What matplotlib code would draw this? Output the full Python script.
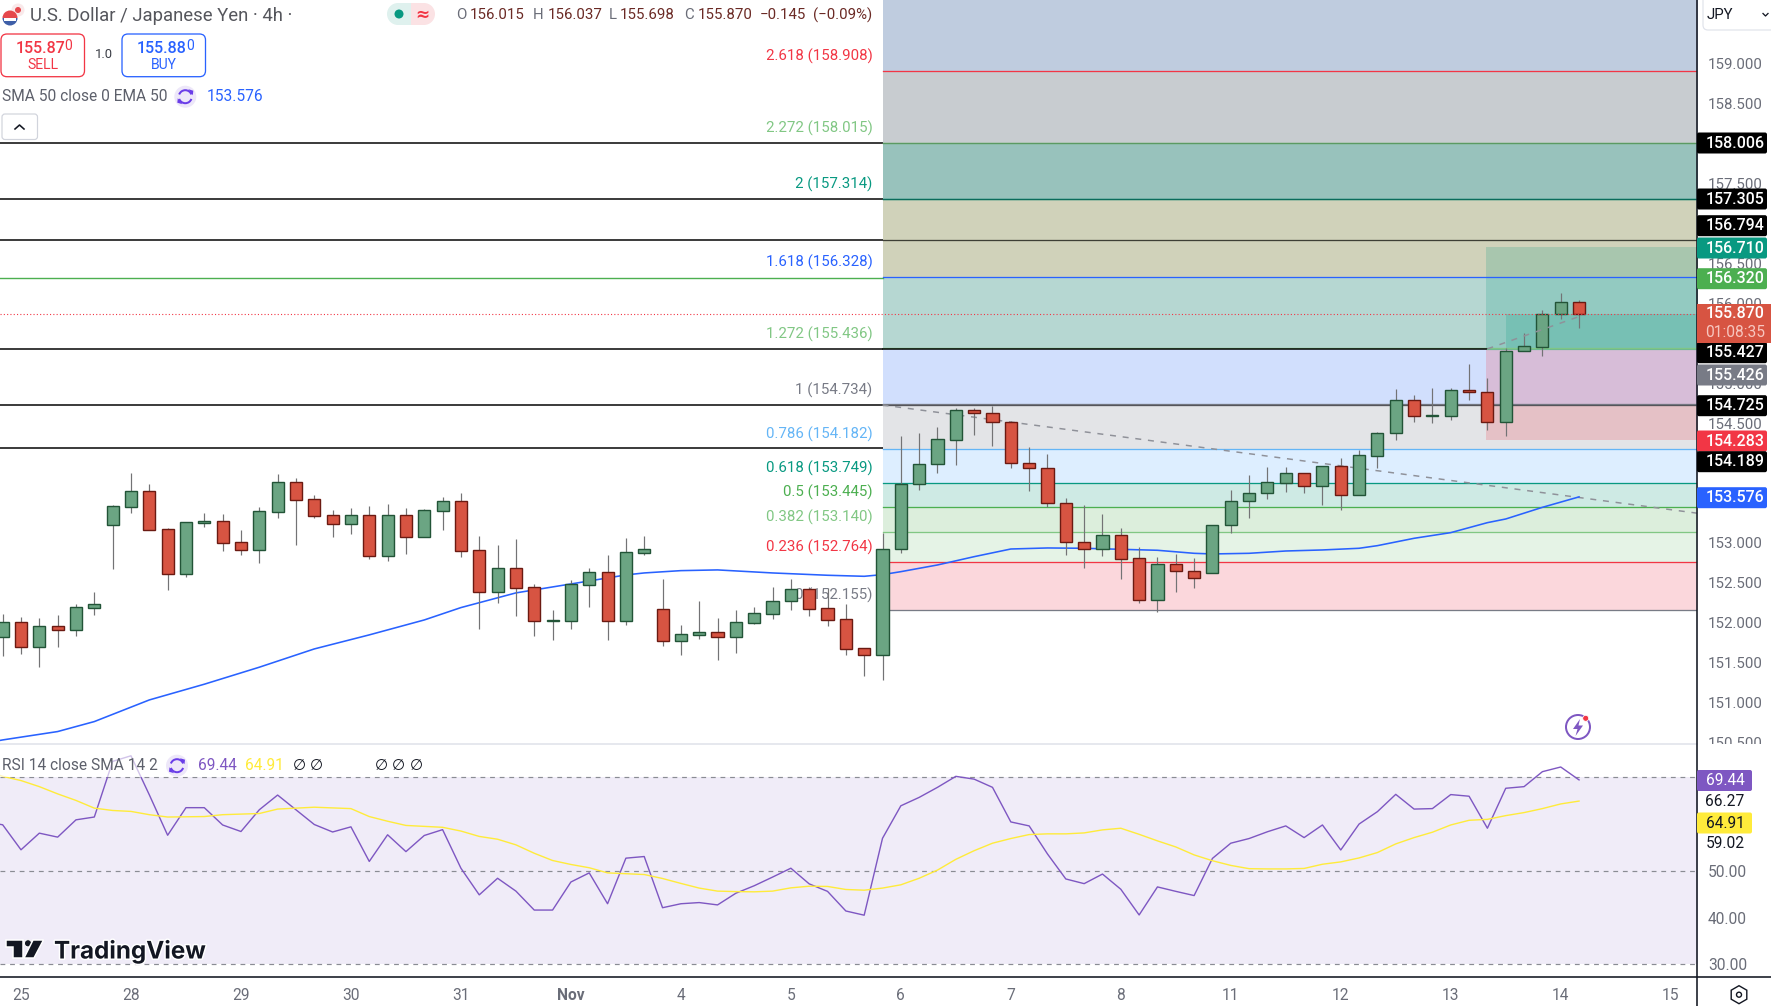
import matplotlib
matplotlib.use("Agg")
import matplotlib.pyplot as plt
import numpy as np
from matplotlib.patches import Rectangle, FancyBboxPatch, Circle, Arc, Polygon, RegularPolygon, Wedge
from matplotlib.transforms import Bbox
import matplotlib.patheffects as pe

plt.rcParams['font.family'] = ['Roboto', 'DejaVu Sans']

W, H = 1771, 1006
PANE_R, MAIN_B, RSI_B = 1697, 744, 977

first_bar = -1
opens = [151.817,152.005,151.700,151.955,151.913,152.189,153.229,153.454,153.646,153.170,152.615,153.254,153.270,153.007,
 152.915,153.391,153.759,153.546,153.345,153.241,153.345,152.840,153.345,153.078,153.404,153.521,152.907,152.389,152.682,
 152.444,152.026,152.026,152.477,152.632,152.026,152.878,152.168,151.776,151.851,151.880,151.826,152.001,152.114,152.268,
 152.419,152.181,152.043,151.680,151.600,152.919,153.733,153.984,154.293,154.660,154.623,154.510,153.996,153.934,153.495,
 153.007,152.927,153.094,152.806,152.280,152.731,152.644,152.618,153.220,153.520,153.621,153.754,153.871,153.708,153.959,
 153.604,154.092,154.372,154.787,154.595,154.595,154.912,154.887,154.511,155.401,155.459,155.864,156.015]
closes = [152.005,151.700,151.955,151.913,152.193,152.231,153.458,153.646,153.166,152.615,153.258,153.270,153.003,152.915,
 153.396,153.759,153.542,153.337,153.241,153.345,152.840,153.345,153.078,153.408,153.521,152.903,152.389,152.682,152.439,
 152.026,152.030,152.481,152.632,152.026,152.882,152.920,151.776,151.855,151.880,151.826,152.005,152.118,152.268,152.419,
 152.176,152.039,151.676,151.600,152.920,153.733,153.984,154.297,154.660,154.623,154.510,153.996,153.934,153.495,153.007,
 152.927,153.094,152.802,152.280,152.731,152.644,152.564,153.220,153.520,153.621,153.758,153.871,153.708,153.959,153.604,
 154.096,154.372,154.785,154.586,154.599,154.912,154.887,154.511,155.401,155.463,155.864,156.014,155.870]
highs = [152.110,152.072,152.060,152.097,152.235,152.385,153.471,153.876,153.738,153.183,153.266,153.370,153.362,153.162,
 153.454,153.863,153.813,153.596,153.412,153.433,153.462,153.487,153.433,153.429,153.579,153.621,153.087,152.974,153.049,
 152.481,152.160,152.535,152.686,152.844,153.062,153.087,152.544,151.968,152.268,152.060,152.160,152.193,152.444,152.544,
 152.444,152.439,152.235,151.680,153.120,154.339,154.372,154.451,154.685,154.685,154.719,154.531,154.201,154.113,153.562,
 153.474,153.362,153.182,152.944,152.819,152.861,152.811,153.220,153.662,153.850,153.946,153.946,153.871,153.959,154.059,
 154.163,154.385,154.927,154.849,154.941,154.941,155.242,155.067,155.438,155.630,155.914,156.127,156.037]
lows = [151.584,151.613,151.446,151.696,151.838,152.097,152.673,153.375,153.166,152.414,152.573,153.199,152.903,152.849,
 152.748,153.312,152.974,153.316,153.074,153.116,152.799,152.773,152.861,153.078,153.162,152.828,151.922,152.252,152.089,
 151.838,151.784,151.922,152.197,151.784,151.972,152.853,151.713,151.600,151.797,151.533,151.621,151.984,152.047,152.160,
 152.085,151.959,151.600,151.333,151.283,152.877,153.662,153.879,153.975,154.351,154.213,153.938,153.650,153.453,152.848,
 152.685,152.836,152.548,152.247,152.138,152.385,152.435,152.618,153.124,153.312,153.550,153.637,153.625,153.474,153.412,
 153.604,153.934,154.289,154.515,154.507,154.541,154.791,154.415,154.344,155.401,155.346,155.805,155.698]

sma_idx = [-2,-1,2,4,7,10,13,16,19,22,24,27,30,33,34,36,38,41,44,46,47,48,50,52,54,56,58,60,62,64,65,67,69,71,73,74,76,78,80,81,83,85]
sma_val = [150.49,150.531,150.636,150.761,151.032,151.229,151.442,151.671,151.847,152.034,152.189,152.373,152.485,152.598,152.623,
 152.652,152.661,152.623,152.594,152.581,152.602,152.639,152.723,152.827,152.923,152.936,152.932,152.919,152.907,152.869,
 152.861,152.869,152.898,152.911,152.932,152.965,153.057,153.128,153.253,153.299,153.445,153.576]

rsi_first = -2
rsi_val = [60.5,59.84,54.49,58.05,57.2,60.9,61.5,73.4,74.6,66.25,57.6,63.5,63.5,59.8,58.4,63.05,66.2,63.05,59.9,58.3,59.4,52.0,57.7,
 54.1,57.55,58.8,50.55,44.85,48.4,45.65,41.6,41.6,47.6,49.55,42.95,52.7,53.05,42.1,42.95,43.2,42.7,45.2,46.8,48.65,50.55,47.2,45.6,
 41.4,40.5,56.95,63.9,65.7,67.85,70.2,69.6,67.85,60.45,59.6,53.6,48.25,47.25,49.3,46.05,40.55,46.55,45.6,44.7,52.65,55.9,56.9,58.35,
 59.6,57.1,59.8,54.45,60.0,62.65,66.35,63.2,63.3,66.3,65.95,59.1,67.65,68.0,71.2,72.2,69.44]
rsi_ma_idx = [-2,-1,0,1,2,3,4,5,6,7,8,10,11,13,14,16,18,19,20,21,23,24,25,26,27,28,29,30,31,32,34,35,36,37,38,39,40,41,42,43,44,45,46,47,
 48,49,50,51,52,53,54,55,56,57,58,59,60,61,62,63,64,65,66,67,68,69,70,71,72,73,74,75,76,77,78,79,80,81,82,83,84,85]
rsi_ma_val = [71.5,70.2,69.3,68.0,66.45,65.05,63.4,62.9,62.7,62.0,61.5,61.6,62.0,62.25,63.2,63.6,63.3,61.6,60.6,59.7,59.3,58.5,57.35,56.75,
 55.55,53.75,52.2,51.35,50.65,49.55,49.2,48.35,47.3,46.3,45.65,45.55,45.5,45.65,46.35,46.7,46.65,46.0,45.85,46.3,
 47.0,48.4,50.15,52.45,54.3,55.9,56.9,57.75,57.9,57.9,58.1,58.75,59.1,57.8,56.4,55.1,53.4,52.15,51.15,50.45,50.4,50.4,50.5,51.4,51.9,52.75,
 53.9,55.75,57.1,58.25,59.8,60.8,61.0,61.8,62.45,63.3,64.3,64.91]

fib_ratio = ['2.618','2.272','2','1.618','1.272','1','0.786','0.618','0.5','0.382','0.236','0']
fib_price = [158.908,158.015,157.314,156.328,155.436,154.734,154.182,153.749,153.445,153.140,152.764,152.155]
fib_color = ['#F23645','#81C784','#089981','#2962FF','#81C784','#787B86','#64B5F6','#089981','#4CAF50','#81C784','#F23645','#787B86']
fib_fill  = ['#BFCCDF','#C8CCD0','#98C2BC','#D0D2BA','#B6D7D2','#D1DFFD','#E3E4E7','#DDEEFF','#CEEAE4','#DCEEDC','#E5F3E6','#FBD7DC']
black_levels = [158.006,157.305,156.794,155.427,154.725,154.189]
black_right = {158.006:'#5B9A63',157.305:'#0B6B5B',156.794:'#3D3F35',154.725:'#55555A'}
green_level = 156.320
last_price = 155.870
fib_start = 47
tool_start, pl_start = 80, 81
tool_top, tool_entry, tool_stop = 156.710, 155.426, 154.283
trend_x, trend_y = [47,91.5], [154.727,153.37]
trend2_x, trend2_y = [80,85], [155.43,155.835]

day_idx = [0,6,12,18,24,30,36,42,48,54,60,66,72,78,84,90]
day_lbl = ['25','28','29','30','31','Nov','4','5','6','7','8','11','12','13','14','15']

px = lambda v: v*0.72
fig = plt.figure(figsize=(W/100,H/100), dpi=100, facecolor='white')
ax = fig.add_axes([0,(H-MAIN_B)/H,PANE_R/W,MAIN_B/H])
rx = fig.add_axes([0,(H-RSI_B)/H,PANE_R/W,(RSI_B-MAIN_B)/H], sharex=ax)
xmin, xmax = -21/18.33, (PANE_R-21)/18.33
ylo, yhi = 150.48, 159.801
ax.set_xlim(xmin,xmax); ax.set_ylim(ylo,yhi)
for a in (ax,rx):
    for s in a.spines.values(): s.set_visible(False)
ax.tick_params(axis='x',length=0,labelbottom=False)

edges = [yhi+1]+fib_price
for i,c in enumerate(fib_fill):
    ax.fill_between([fib_start,xmax+1],edges[i+1],edges[i],color=c,lw=0,zorder=1)
ax.fill_between([tool_start-.1,xmax+1],tool_entry,tool_top,color='#089981',alpha=.2,lw=0,zorder=1.2)
ax.fill_between([tool_start-.1,xmax+1],tool_stop,tool_entry,color='#F23645',alpha=.2,lw=0,zorder=1.2)
ax.fill_between([pl_start,xmax+1],tool_entry,last_price,color='#089981',alpha=.2,lw=0,zorder=1.2)
for p in black_levels:
    ax.plot([xmin,fib_start],[p,p],color='#000000',lw=px(1.5),zorder=1.5,solid_capstyle='butt')
ax.plot([xmin,fib_start],[green_level]*2,color='#4CAF50',lw=px(1.4),zorder=1.5)
for p,c in zip(fib_price,fib_color):
    ax.plot([fib_start,xmax],[p,p],color=c,lw=px(1.3),zorder=1.7)
for p,c in black_right.items():
    ax.plot([fib_start,xmax],[p,p],color=c,lw=px(1.3),zorder=1.75)
ax.plot([fib_start,tool_start],[155.427]*2,color='#000000',lw=px(1.5),zorder=1.8)
ax.plot([tool_start,xmax],[tool_entry]*2,color='#6FB98F',lw=px(1.2),zorder=1.8)
for r,p,c in zip(fib_ratio,fib_price,fib_color):
    ax.annotate(f'{r} ({p:.3f})',(fib_start,p),xytext=(px(-10),px(14.5)),textcoords='offset points',
                ha='right',va='center',color=c,fontsize=px(15),zorder=2.5)
ax.plot(trend_x,trend_y,color='#8F9199',lw=px(1.5),ls=(0,(4,4.5)),zorder=2.2)
ax.plot(trend2_x,trend2_y,color='#8F9199',lw=px(1.5),ls=(0,(4,4.5)),zorder=3.5)
ax.plot(sma_idx,sma_val,color='#2962FF',lw=px(1.6),zorder=2.6)
idx = np.arange(first_bar,first_bar+len(opens))
O,C,Hi,Lo = map(np.array,(opens,closes,highs,lows))
up = C>=O
ax.vlines(idx,Lo,Hi,color='#737375',lw=px(1.2),zorder=2.9)
ax.bar(idx[up],(C-O)[up],bottom=O[up],width=.66,color='#6BA583',edgecolor='#225437',linewidth=px(1.4),zorder=3)
ax.bar(idx[~up],(C-O)[~up],bottom=O[~up],width=.66,color='#D75442',edgecolor='#6B1A12',linewidth=px(1.4),zorder=3)
ax.plot([xmin,xmax],[last_price]*2,color='#F23645',lw=px(1.1),ls=(0,(1,2)),zorder=3.2)
ticks = np.arange(150.5,159.5,.5)
ax.yaxis.tick_right()
ax.set_yticks(ticks)
ax.set_yticklabels([f'{t:.3f}' for t in ticks],fontsize=px(15),color='#6A6D78')
ax.tick_params(axis='y',length=0,pad=px(11))
for lab in ax.get_yticklabels():
    lab.set_clip_box(Bbox([[PANE_R,H-MAIN_B],[W,H]]))
    lab.set_clip_on(True)

rx.set_ylim(27.28,77.12)
rx.fill_between([xmin,xmax+1],30,70,color='#F0ECF8',lw=0,zorder=1)
for lv in (70,50,30):
    rx.plot([xmin,xmax],[lv,lv],color='#8A8C94',lw=px(1.2),ls=(0,(4,4)),zorder=1.5)
rx.plot(np.arange(rsi_first,rsi_first+len(rsi_val)),rsi_val,color='#7E57C2',lw=px(1.4),zorder=2)
rx.plot(rsi_ma_idx,rsi_ma_val,color='#FFEB3B',lw=px(1.4),zorder=2)
rx.yaxis.tick_right()
rx.set_yticks([30,40,50])
rx.set_yticklabels(['30.00','40.00','50.00'],fontsize=px(15.5),color='#6A6D78')
rx.tick_params(axis='y',length=0,pad=px(11))
rx.set_xticks(day_idx)
rx.set_xticklabels(day_lbl,fontsize=px(15.5),color='#6A6D78')
rx.tick_params(axis='x',length=0,pad=px(11))
rx.get_xticklabels()[5].set_fontweight('bold')
rx.set_xlim(xmin,xmax)

ov = fig.add_axes([0,0,1,1],zorder=10)
ov.set_xlim(0,W); ov.set_ylim(H,0); ov.axis('off'); ov.patch.set_alpha(0)
def T(x,y,s,size=15,color='#5D606B',ha='left',va='center',**k):
    return ov.text(x,y,s,fontsize=px(size),color=color,ha=ha,va=va,**k)
def box(x0,y0,x1,y1,fc='none',ec='none',lw=1.2,r=4,**k):
    p=FancyBboxPatch((x0+r,y0+r),x1-x0-2*r,y1-y0-2*r,boxstyle=f'round,pad={r},rounding_size={r}',fc=fc,ec=ec,lw=px(lw),**k)
    ov.add_patch(p); return p
ov.plot([0,PANE_R],[MAIN_B,MAIN_B],color='#E0E3EB',lw=px(1.6))
ov.plot([PANE_R,PANE_R],[0,H],color='#131722',lw=px(1.6))
ov.plot([0,W],[RSI_B,RSI_B],color='#131722',lw=px(1.6))

tags = [(143,'158.006','#000000','white'),(199,'157.305','#000000','white'),(225.7,'156.794','#000000','white'),
        (248,'156.710','#089981','white'),(278.7,'156.320','#4CAF50','white'),(352.7,'155.427','#000000','white'),
        (375,'155.426','#787B86','white'),(405.7,'154.725','#000000','white'),(441,'154.283','#F23645','white'),
        (461.7,'154.189','#000000','white'),(497.7,'153.576','#2962FF','white')]
for y,s,bg,fg in tags:
    box(PANE_R,y-10.5,1767,y+10.5,fc=bg,r=2,zorder=5)
    T(1735.5,y,s,16,fg,ha='center',zorder=6,fontweight='medium')
ov.add_patch(Rectangle((PANE_R,304),W-PANE_R,39,fc='#D75442',zorder=5))
T(1735.5,314,'155.870',16,'white',ha='center',zorder=6,fontweight='medium')
T(1735.5,332.5,'01:08:35',15.5,'#F7C6BF',ha='center',zorder=6)
box(PANE_R,770,1752,791,fc='#7E57C2',r=2,zorder=5); T(1725,780.7,'69.44',15.5,'white',ha='center',zorder=6)
T(1725,801.7,'66.27',15.5,'#131722',ha='center',zorder=6)
box(PANE_R,812.5,1752,833.5,fc='#FFEB3B',r=2,zorder=5); T(1725,823,'64.91',15.5,'#131722',ha='center',zorder=6)
T(1725,843.7,'59.02',15.5,'#131722',ha='center',zorder=6)
box(1703,-6,W+6,30,fc='white',ec='#E0E3EB',lw=1.2,r=5)
T(1707,15,'JPY',15,'#131722')
ov.plot([1763,1765.5,1768],[13.5,16,13.5],color='#131722',lw=px(1.3))

ov.add_patch(Circle((18,10),6.5,fc='#F9E9EA',ec='none'))
ov.add_patch(Circle((18,10),3,fc='#E5484D',ec='none'))
ov.add_patch(Wedge((10,18),7.5,0,180,fc='#3E5FA8',ec='none'))
ov.add_patch(Wedge((10,18),7.5,180,360,fc='#E5484D',ec='none'))
ov.add_patch(Rectangle((3.6,18),12.8,2.5,fc='white',ec='none'))
T(30,16,'U.S. Dollar / Japanese Yen · 4h ·',18.5,'#55565C')
ov.add_patch(Wedge((398,14),11,90,270,fc='#DFF1EE',ec='none'))
ov.add_patch(Rectangle((398,3),13,22,fc='#DFF1EE',ec='none'))
ov.add_patch(Rectangle((411,3),13,22,fc='#FBE2E4',ec='none'))
ov.add_patch(Wedge((424,14),11,270,90,fc='#FBE2E4',ec='none'))
ov.add_patch(Circle((399,14),4.5,fc='#089981',ec='none'))
T(422,14.5,'≈',17,'#F23645',ha='center',fontweight='bold',family=['DejaVu Sans'])
val_col = '#6B2A25'
for x,s,c in [(456,'O','#6A6D78'),(470,'156.015',val_col),(533,'H','#6A6D78'),(548,'156.037',val_col),(609,'L','#6A6D78'),
              (620,'155.698',val_col),(684,'C','#6A6D78'),(698,'155.870',val_col),(760,'−0.145',val_col),(813,'(−0.09%)',val_col)]:
    T(x,15,s,15,c)
box(1,34,84.5,76.7,fc='white',ec='#F23645',lw=1.3,r=6)
T(15.5,48,'155.87',16,'#F23645',fontweight='medium'); T(64.5,46,'0',14,'#F23645')
T(43,65,'SELL',14,'#F23645',ha='center')
T(104,54.7,'1.0',13,'#3A3D45',ha='center')
box(122,34,205.5,76.7,fc='white',ec='#2962FF',lw=1.3,r=6)
T(137,48,'155.88',16,'#2962FF',fontweight='medium'); T(186,46,'0',14,'#2962FF')
T(164,65,'BUY',14,'#2962FF',ha='center')
T(2,96.7,'SMA 50 close 0 EMA 50',15.5,'#5D606B')
def refresh(cx,cy):
    ov.add_patch(Circle((cx,cy),11,fc='#EDE7F9',ec='none'))
    ov.add_patch(Arc((cx,cy),13,13,theta1=200,theta2=340,color='#6A3DE8',lw=px(2)))
    ov.add_patch(Arc((cx,cy),13,13,theta1=20,theta2=160,color='#6A3DE8',lw=px(2)))
    ov.add_patch(Polygon([(cx+3,cy-7.5),(cx+8,cy-6),(cx+7.5,cy-1.5)],fc='#6A3DE8',ec='none'))
    ov.add_patch(Polygon([(cx-3,cy+7.5),(cx-8,cy+6),(cx-7.5,cy+1.5)],fc='#6A3DE8',ec='none'))
refresh(185.3,96.7)
T(207,96.7,'153.576',15.5,'#2962FF')
box(2,114,37.5,139.5,fc='white',ec='#D1D4DC',lw=1.2,r=3)
ov.plot([15,19.5,24],[129,125,129],color='#131722',lw=px(1.6))

ov.add_patch(Rectangle((0,751),430,26,fc='white',alpha=.65,ec='none'))
T(2,765.7,'RSI 14 close SMA 14 2',15.5,'#5D606B')
refresh(177,765.7)
T(198.5,765.7,'69.44',15.5,'#7E57C2')
T(245.5,765.7,'64.91',15.5,'#FFEB3B')
for x in (299,316,381,398,416):
    T(x,765.7,'∅',15,'#131722',ha='center',family=['DejaVu Sans'])

logo='#131722'
ov.add_patch(Polygon([(6,940),(23,940),(23,958),(13,958),(13,946.5),(6,946.5)],fc=logo,ec='white',lw=px(1.5)))
ov.add_patch(Circle((28,943.3),3.6,fc=logo,ec='white',lw=px(1)))
ov.add_patch(Polygon([(33,940),(43.5,940),(34,958),(24,958)],fc=logo,ec='white',lw=px(1.5)))
T(54,951,'TradingView',24.2,logo,fontweight='bold',family=['Inter','DejaVu Sans'],
  path_effects=[pe.withStroke(linewidth=px(3),foreground='white')])

ov.add_patch(Circle((1578,727),12,fc='white',ec='#7E57C2',lw=px(2)))
ov.add_patch(Polygon([(1580,719),(1573,729),(1577.5,729),(1575.5,736),(1583,725.5),(1578.5,725.5)],fc='#7E57C2',ec='none'))
ov.add_patch(Circle((1585.7,718.3),3,fc='#F23645',ec='white',lw=px(.8)))
ov.add_patch(RegularPolygon((1739,994.7),6,radius=9,fc='white',ec='#131722',lw=px(1.4)))
ov.add_patch(Circle((1739,994.7),2.5,fc='white',ec='#131722',lw=px(1.4)))

fig.savefig('out.png',dpi=100)
